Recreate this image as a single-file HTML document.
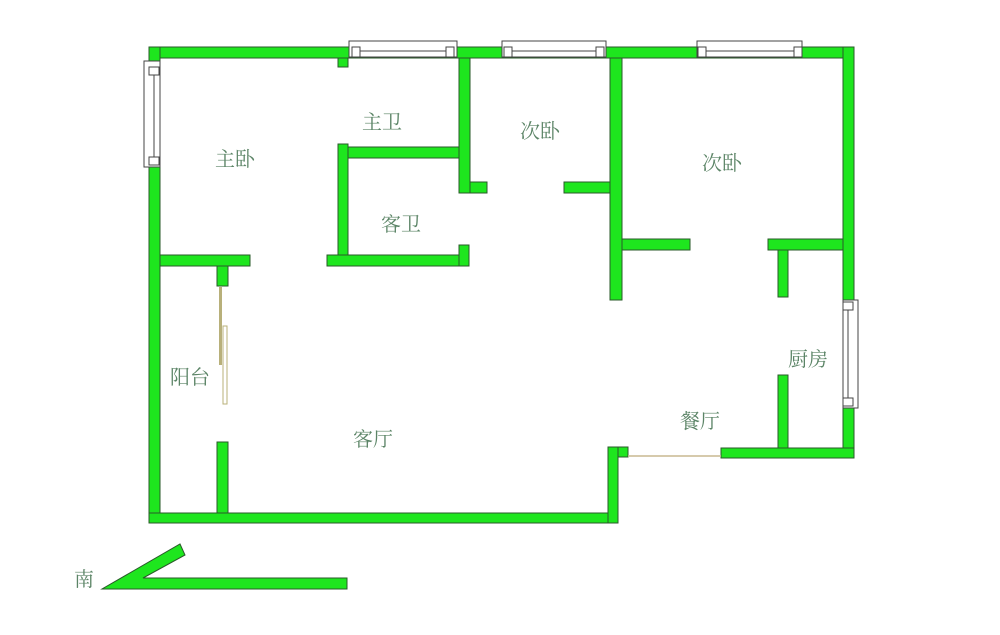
<!DOCTYPE html>
<html><head><meta charset="utf-8"><style>
html,body{margin:0;padding:0;background:#fff}
svg{display:block}
text{font-family:"Liberation Serif","Noto Serif CJK SC",serif;font-size:20px;fill:#5b8466}
</style></head><body>
<svg width="1000" height="635" viewBox="0 0 1000 635">
<g fill="#1ee61e" stroke="#2a5a2a" stroke-width="1">
<rect x="149" y="47" width="705" height="11"/>
<rect x="149" y="47" width="11" height="476"/>
<rect x="149" y="513" width="469" height="10"/>
<rect x="843" y="47" width="11" height="411"/>
<rect x="338" y="58" width="10" height="9"/>
<rect x="459" y="58" width="11" height="135"/>
<rect x="470" y="182" width="17" height="11"/>
<rect x="338" y="147" width="121" height="11"/>
<rect x="338" y="144" width="10" height="122"/>
<rect x="327" y="255" width="142" height="11"/>
<rect x="459" y="245" width="10" height="21"/>
<rect x="160" y="255" width="90" height="11"/>
<rect x="217" y="266" width="11" height="20"/>
<rect x="217" y="442" width="11" height="71"/>
<rect x="610" y="58" width="12" height="242"/>
<rect x="564" y="182" width="46" height="11"/>
<rect x="622" y="239" width="68" height="11"/>
<rect x="768" y="239" width="75" height="11"/>
<rect x="778" y="250" width="10" height="47"/>
<rect x="778" y="375" width="10" height="73"/>
<rect x="721" y="448" width="133" height="10"/>
<rect x="608" y="447" width="20" height="10"/>
<rect x="608" y="447" width="10" height="76"/>
<polygon points="102,589 347,589 347,578 143,578 185,555 180,544"/>
</g>
<g fill="#fff" stroke="#444" stroke-width="1">
<rect x="349" y="41" width="108" height="16"/>
<rect x="352" y="47" width="8" height="10"/><rect x="446" y="47" width="8" height="10"/>
<line x1="360" y1="51" x2="446" y2="51"/>
<rect x="502" y="41" width="104" height="16"/>
<rect x="504" y="47" width="8" height="10"/><rect x="596" y="47" width="8" height="10"/>
<line x1="512" y1="51" x2="596" y2="51"/>
<rect x="697" y="41" width="105" height="16"/>
<rect x="698" y="47" width="8" height="10"/><rect x="794" y="47" width="8" height="10"/>
<line x1="706" y1="51" x2="794" y2="51"/>
<rect x="144" y="61" width="16" height="106"/>
<rect x="149" y="67" width="10" height="8"/><rect x="149" y="157" width="10" height="8"/>
<line x1="154" y1="75" x2="154" y2="157"/>
<rect x="843" y="300" width="15" height="108"/>
<rect x="843" y="302" width="10" height="8"/><rect x="843" y="398" width="10" height="8"/>
<line x1="848" y1="310" x2="848" y2="398"/>
</g>
<rect x="219" y="287" width="3" height="78" fill="#b8b07a"/>
<rect x="223" y="326" width="4" height="78" fill="#fff" stroke="#b8b07a" stroke-width="1"/>
<line x1="628" y1="456" x2="721" y2="456" stroke="#c8b890" stroke-width="1.5"/>
<text x="215" y="166">主卧</text>
<text x="362" y="129">主卫</text>
<text x="520" y="138">次卧</text>
<text x="702" y="170">次卧</text>
<text x="381" y="231">客卫</text>
<text x="170" y="384">阳台</text>
<text x="353" y="446">客厅</text>
<text x="680" y="428">餐厅</text>
<text x="788" y="366">厨房</text>
<text x="74" y="586">南</text>
</svg>
</body></html>
